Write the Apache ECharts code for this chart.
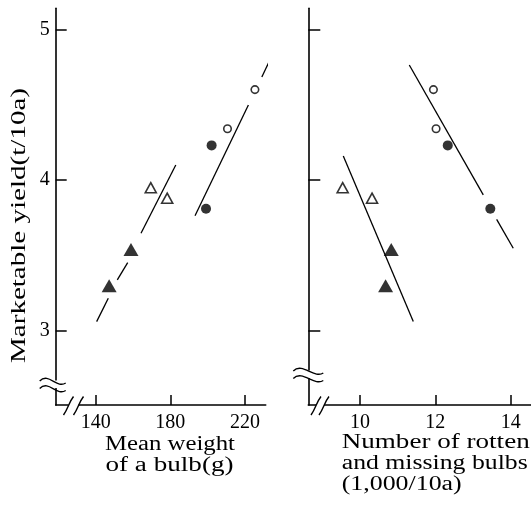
<!DOCTYPE html>
<html>
<head>
<meta charset="utf-8">
<script src="https://cdn.jsdelivr.net/npm/echarts@6/dist/echarts.min.js"></script>
<style>
  html, body { margin: 0; padding: 0; background: #fff; }
  #chart { width: 531px; height: 506px; }
</style>
</head>
<body>
<div id="chart"></div>
<script>
// Marketable yield (t/10a) of each plot, grouped by symbol
const yieldFilledTri    = [3.30, 3.54];
const yieldOpenTri      = [3.95, 3.88];
const yieldFilledCircle = [4.23, 3.81];
const yieldOpenCircle   = [4.34, 4.60];

// Mean weight of a bulb (g), same plots
const weightFilledTri    = [147.2, 158.9];
const weightOpenTri      = [169.5, 178.3];
const weightFilledCircle = [202.1, 199.1];
const weightOpenCircle   = [210.6, 225.3];

// Number of rotten and missing bulbs (1,000/10a), same plots
const rottenFilledTri    = [10.68, 10.83];
const rottenOpenTri      = [9.54, 10.32];
const rottenFilledCircle = [12.33, 13.46];
const rottenOpenCircle   = [12.02, 11.95];

// Regression lines: each stroke as [x, yield] end points
const weightFitTriangles = [
  [[140.5, 3.062], [146.75, 3.217]],
  [[151.57, 3.338], [157.14, 3.453]],
  [[164.27, 3.648], [182.9, 4.100]]
];
const weightFitCircles = [
  [[193.2, 3.764], [221.8, 4.498]],
  [[229.0, 4.684], [232.8, 4.783]]
];
const rottenFitTriangles = [
  [[9.557, 4.160], [11.415, 3.062]]
];
const rottenFitCircles = [
  [[11.309, 4.763], [13.273, 3.902]],
  [[13.628, 3.740], [14.069, 3.548]]
];

// Tick values
const yieldTicks  = [3, 4, 5];
const weightTicks = [140, 180, 220];
const rottenTicks = [10, 12, 14];

// Axis titles
const yieldTitle  = 'Marketable yield(t/10a)';
const weightTitle = ['Mean weight', 'of a bulb(g)'];
const rottenTitle = ['Number of rotten', 'and missing bulbs', '(1,000/10a)'];

const FONT = '"Liberation Serif", "Times New Roman", serif';
const INK = '#000';

// Panel frames (pixels)
const TOP = 8.3, BASE = 405;
const LEFT_AXIS = 55.7, LEFT_END = 265.7;
const RIGHT_AXIS = 308.3, RIGHT_END = 531;

const chart = echarts.init(document.getElementById('chart'), null, { renderer: 'canvas' });

function pair(xs, ys) { return xs.map((x, i) => [x, ys[i]]); }

function markers(panel, xs, ys, symbol, filled) {
  const tri = symbol === 'triangle';
  return {
    type: 'scatter', xAxisIndex: panel, yAxisIndex: panel,
    data: pair(xs, ys), symbol: symbol,
    symbolSize: filled ? (tri ? [15, 13] : 10) : (tri ? [11, 10] : 7.5),
    itemStyle: filled ? { color: INK } : { color: '#fff', borderColor: INK, borderWidth: 1.6 },
    z: 4, silent: true
  };
}

function fitStrokes(panel, strokes) {
  return strokes.map(s => ({
    type: 'line', xAxisIndex: panel, yAxisIndex: panel,
    data: s, showSymbol: false, symbol: 'none', clip: false,
    lineStyle: { color: INK, width: 1.3 }, z: 3, silent: true
  }));
}

function valueAxis(grid, min, max, ticks, showLabels, tickLen, labelMargin) {
  return {
    type: 'value', gridIndex: grid, min: min, max: max,
    axisLine: { show: true, onZero: false, lineStyle: { color: INK, width: 1.6 } },
    axisTick: { show: true, inside: true, length: tickLen, customValues: ticks,
                lineStyle: { color: INK, width: 1.5 } },
    axisLabel: { show: showLabels, customValues: ticks, color: INK, fontFamily: FONT,
                 fontSize: 20, margin: labelMargin },
    splitLine: { show: false }
  };
}

// Text stretched along its run to reproduce the wide typesetting
const measureCtx = document.createElement('canvas').getContext('2d');
function spacedText(text, x, y, width, size, align, rotation) {
  const font = size + 'px ' + FONT;
  measureCtx.font = font;
  const natural = measureCtx.measureText(text).width;
  return {
    type: 'text', x: x, y: y, rotation: rotation || 0, scaleX: width / natural,
    z: 10, silent: true,
    style: { text: text, font: font, fill: INK,
             align: align, verticalAlign: 'middle',
             textAlign: align, textVerticalAlign: 'middle' }
  };
}

// Axis break marks
function curve(x1, y1, cx1, cy1, cx2, cy2, x2, y2) {
  return { type: 'bezierCurve', z: 12, silent: true,
           shape: { x1: x1, y1: y1, cpx1: cx1, cpy1: cy1, cpx2: cx2, cpy2: cy2, x2: x2, y2: y2 },
           style: { fill: null, stroke: INK, lineWidth: 1.4 } };
}
function blank(x, y, w, h) {
  return { type: 'rect', z: 11, silent: true, shape: { x: x, y: y, width: w, height: h },
           style: { fill: '#fff' } };
}
function yBreak(ax, cy, l, r) {
  const x0 = ax - l, x1 = ax + r;
  const wave = dy => curve(x0, cy - 3 + dy, x0 + 9, cy - 12 + dy, x1 - 9, cy + 5 + dy, x1, cy - 1 + dy);
  return [blank(ax - 3, cy - 3.5, 6, 7.5), wave(0), wave(7.5)];
}
function xBreak(x0, gap) {
  const slash = sx => curve(sx, BASE + 10, sx + 5, BASE + 3, sx + 5, BASE - 2, sx + 10, BASE - 8.5);
  return [blank(x0 + 5, BASE - 3, gap, 6), slash(x0), slash(x0 + gap)];
}

const graphics = [].concat(
  yBreak(LEFT_AXIS, 384, 16, 10),
  yBreak(RIGHT_AXIS, 374, 15, 15),
  xBreak(63.5, 10),
  xBreak(311, 8),
  [
    spacedText(yieldTitle, 19.2, 225.5, 275, 22, 'center', Math.PI / 2),
    spacedText(weightTitle[0], 170, 444.8, 130, 20, 'center'),
    spacedText(weightTitle[1], 169.5, 465.4, 128, 20, 'center'),
    spacedText(rottenTitle[0], 341.7, 442.7, 188, 20, 'left'),
    spacedText(rottenTitle[1], 341.7, 463.4, 186, 20, 'left'),
    spacedText(rottenTitle[2], 341.7, 485.1, 120, 20, 'left')
  ]
);

const option = {
  backgroundColor: '#fff',
  animation: false,
  grid: [
    { left: LEFT_AXIS, top: TOP, width: LEFT_END - LEFT_AXIS, height: BASE - TOP },
    { left: RIGHT_AXIS, top: TOP, width: RIGHT_END - RIGHT_AXIS, height: BASE - TOP }
  ],
  xAxis: [
    valueAxis(0, 118.57, 231.07, weightTicks, true, 10, 8),
    valueAxis(1, 8.628, 14.54, rottenTicks, true, 10, 8)
  ],
  yAxis: [
    valueAxis(0, 2.509, 5.139, yieldTicks, true, 11, 6),
    valueAxis(1, 2.509, 5.139, yieldTicks, false, 12, 6)
  ],
  series: [].concat(
    fitStrokes(0, weightFitTriangles),
    fitStrokes(0, weightFitCircles),
    fitStrokes(1, rottenFitTriangles),
    fitStrokes(1, rottenFitCircles),
    [
      markers(0, weightFilledTri, yieldFilledTri, 'triangle', true),
      markers(0, weightOpenTri, yieldOpenTri, 'triangle', false),
      markers(0, weightFilledCircle, yieldFilledCircle, 'circle', true),
      markers(0, weightOpenCircle, yieldOpenCircle, 'circle', false),
      markers(1, rottenFilledTri, yieldFilledTri, 'triangle', true),
      markers(1, rottenOpenTri, yieldOpenTri, 'triangle', false),
      markers(1, rottenFilledCircle, yieldFilledCircle, 'circle', true),
      markers(1, rottenOpenCircle, yieldOpenCircle, 'circle', false)
    ]
  ),
  graphic: { elements: graphics }
};

chart.setOption(option);
</script>
</body>
</html>
